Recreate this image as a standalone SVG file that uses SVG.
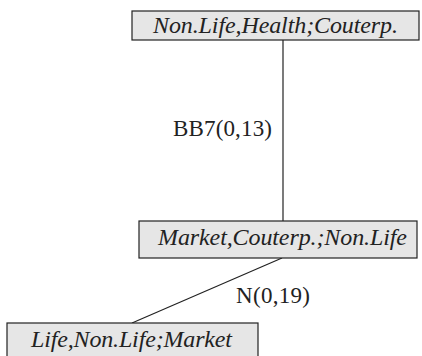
<svg xmlns="http://www.w3.org/2000/svg" width="422" height="356" viewBox="0 0 422 356">
<rect width="422" height="356" fill="#fff"/>
<g id="connectors" stroke="#222" stroke-width="1.2" fill="none">
<line x1="283" y1="40" x2="283" y2="221"/>
<line x1="282" y1="258" x2="132" y2="323"/>
</g>
<g id="labels" font-family="Liberation Serif" font-size="23" fill="#222">
<text x="173" y="136" textLength="99">BB7(0,13)</text>
<text x="236" y="303" textLength="74">N(0,19)</text>
</g>
<g id="n1">
<rect x="132" y="11" width="287" height="29" fill="#e6e6e6" stroke="#222" stroke-width="1.2"/>
<text x="153" y="33" font-family="Liberation Serif" font-style="italic" font-size="24" fill="#222" textLength="245">Non.Life,Health;Couterp.</text>
</g>
<g id="n2">
<rect x="139" y="221" width="278" height="37" fill="#e6e6e6" stroke="#222" stroke-width="1.2"/>
<text x="158" y="245" font-family="Liberation Serif" font-style="italic" font-size="24" fill="#222" textLength="249">Market,Couterp.;Non.Life</text>
</g>
<g id="n3">
<rect x="7" y="323" width="251" height="35" fill="#e6e6e6" stroke="#222" stroke-width="1.2"/>
<text x="31" y="347" font-family="Liberation Serif" font-style="italic" font-size="24" fill="#222" textLength="201">Life,Non.Life;Market</text>
</g>
</svg>
